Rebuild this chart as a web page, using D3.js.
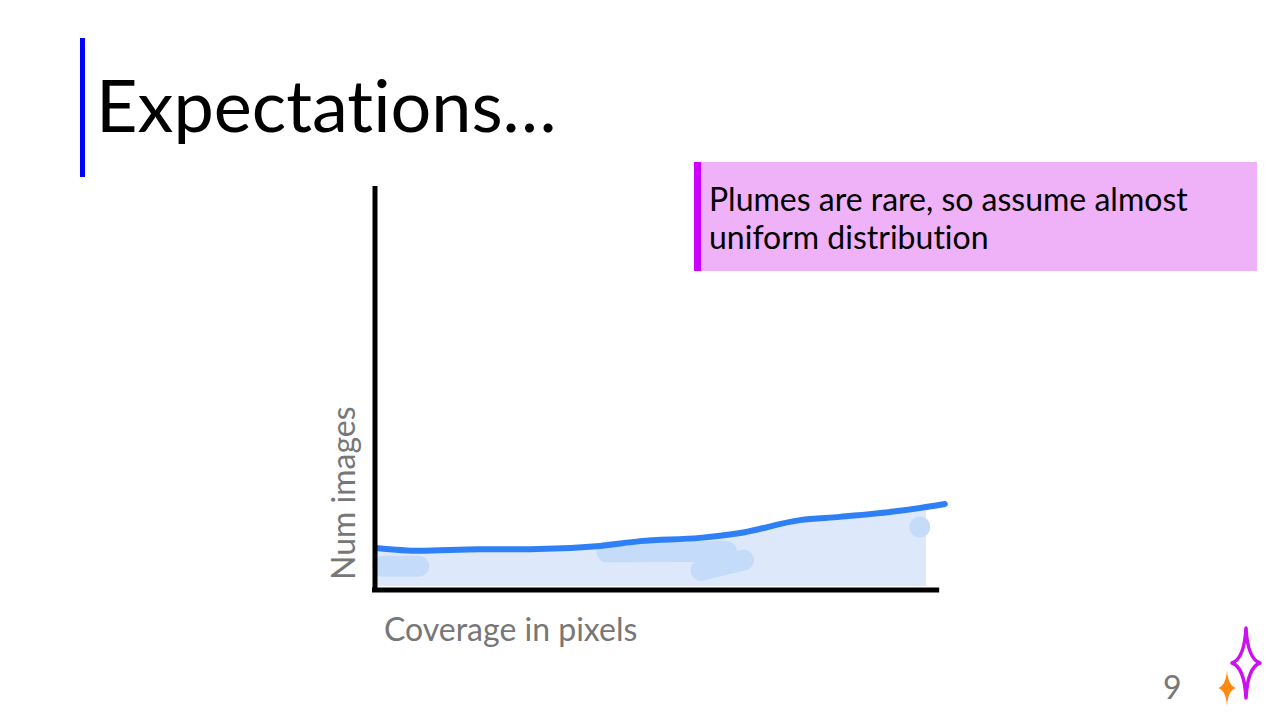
<!DOCTYPE html>
<html>
<head>
<meta charset="utf-8">
<script src="https://cdn.jsdelivr.net/npm/d3@7"></script>
<style>
  html, body { margin: 0; padding: 0; background: #fff; }
  svg { display: block; font-family: Lato, "Noto Sans", sans-serif; font-variant-ligatures: none; font-feature-settings: "liga" 0; }
</style>
</head>
<body>
<svg id="slide" width="1280" height="720"></svg>
<script>
// coverage (x) vs number of images (y), both 0-100
const coverage = [0, 7.7, 18.2, 27, 39.3, 46.3, 56.8, 63.9, 74.4, 81.4, 91.9, 99.8];
const numImages = [10.4, 9.7, 10.1, 10.1, 10.9, 12.1, 12.9, 14.1, 17.3, 18.1, 19.6, 21.3];
// shaded area under the curve ends a bit before the line
const fillEnd = 96.5;
// darker smudges in the shading: [x0, y0, x1, y1]
const smudges = [
    [1.2, 5.9, 7.5, 5.9],
    [40.5, 9.4, 61.5, 9.6],
    [57.0, 4.9, 64.5, 7.4],
    [95.4, 15.6, 95.4, 15.6]
];

const title = 'Expectations…';
const note = ['Plumes are rare, so assume almost', 'uniform distribution'];
const xLabel = 'Coverage in pixels';
const yLabel = 'Num images';
const pageNum = '9';

const svg = d3.select('#slide');

// title and its left bar
svg.append('rect')
    .attr('x', 80).attr('y', 38)
    .attr('width', 5).attr('height', 139)
    .attr('fill', '#0000ff');

svg.append('text')
    .attr('x', 96).attr('y', 132)
    .attr('font-size', 72)
    .attr('fill', '#000')
    .text(title);

// callout box
svg.append('rect')
    .attr('x', 694).attr('y', 162)
    .attr('width', 563).attr('height', 109)
    .attr('fill', '#efb1f8');
svg.append('rect')
    .attr('x', 694).attr('y', 162)
    .attr('width', 7).attr('height', 109)
    .attr('fill', '#cc00ff');

svg.append('text')
    .attr('font-size', 32)
    .attr('fill', '#000')
    .selectAll('tspan')
    .data(note)
    .join('tspan')
    .attr('x', 709)
    .attr('y', (d, i) => 211 + i * 38)
    .text(d => d);

// chart
const x = d3.scaleLinear().domain([0, 100]).range([376, 946]);
const y = d3.scaleLinear().domain([0, 100]).range([590, 186]);

const pts = coverage.map((c, i) => [c, numImages[i]]);
const lineAt = d3.scaleLinear().domain(coverage).range(numImages);

const fillPts = pts.filter(p => p[0] < fillEnd).concat([[fillEnd, lineAt(fillEnd)]]);

svg.append('path')
    .datum(fillPts)
    .attr('fill', '#dde9fb')
    .attr('d', d3.area()
        .x(d => x(d[0]))
        .y0(y(1))
        .y1(d => y(d[1]))
        .curve(d3.curveMonotoneX));

svg.append('g')
    .selectAll('line')
    .data(smudges)
    .join('line')
    .attr('x1', d => x(d[0])).attr('y1', d => y(d[1]))
    .attr('x2', d => x(d[2])).attr('y2', d => y(d[3]))
    .attr('stroke', '#c5dbfa')
    .attr('stroke-width', 21)
    .attr('stroke-linecap', 'round');

svg.append('path')
    .datum(pts)
    .attr('fill', 'none')
    .attr('stroke', '#2f80f6')
    .attr('stroke-width', 6)
    .attr('stroke-linecap', 'round')
    .attr('d', d3.line()
        .x(d => x(d[0]))
        .y(d => y(d[1]))
        .curve(d3.curveMonotoneX));

// hand-drawn axes, no ticks
svg.append('line')
    .attr('x1', x(0) - 1).attr('y1', y(100))
    .attr('x2', x(0) - 1).attr('y2', y(0) + 2)
    .attr('stroke', '#000').attr('stroke-width', 5);
svg.append('line')
    .attr('x1', x(0) - 4).attr('y1', y(0))
    .attr('x2', x(98.8)).attr('y2', y(0))
    .attr('stroke', '#000').attr('stroke-width', 5);

svg.append('text')
    .attr('x', 384).attr('y', 641)
    .attr('font-size', 32)
    .attr('fill', '#777')
    .text(xLabel);

svg.append('text')
    .attr('transform', 'translate(355,580) rotate(-90)')
    .attr('font-size', 32)
    .attr('fill', '#777')
    .text(yLabel);

// page number and logo
svg.append('text')
    .attr('x', 1163).attr('y', 699)
    .attr('font-size', 32)
    .attr('fill', '#777')
    .text(pageNum);

function star(cx, cy, rx, ry, k) {
    const p = d3.path();
    p.moveTo(cx, cy - ry);
    p.quadraticCurveTo(cx + rx * k, cy - ry * k, cx + rx, cy);
    p.quadraticCurveTo(cx + rx * k, cy + ry * k, cx, cy + ry);
    p.quadraticCurveTo(cx - rx * k, cy + ry * k, cx - rx, cy);
    p.quadraticCurveTo(cx - rx * k, cy - ry * k, cx, cy - ry);
    p.closePath();
    return p.toString();
}

svg.append('path')
    .attr('d', star(1246, 663, 14, 35, 0.12))
    .attr('fill', 'none')
    .attr('stroke', '#cc11ee')
    .attr('stroke-width', 3.5)
    .attr('stroke-linejoin', 'round');

svg.append('path')
    .attr('d', star(1227, 688, 9, 18, 0.12))
    .attr('fill', '#ff8811');
</script>
</body>
</html>
